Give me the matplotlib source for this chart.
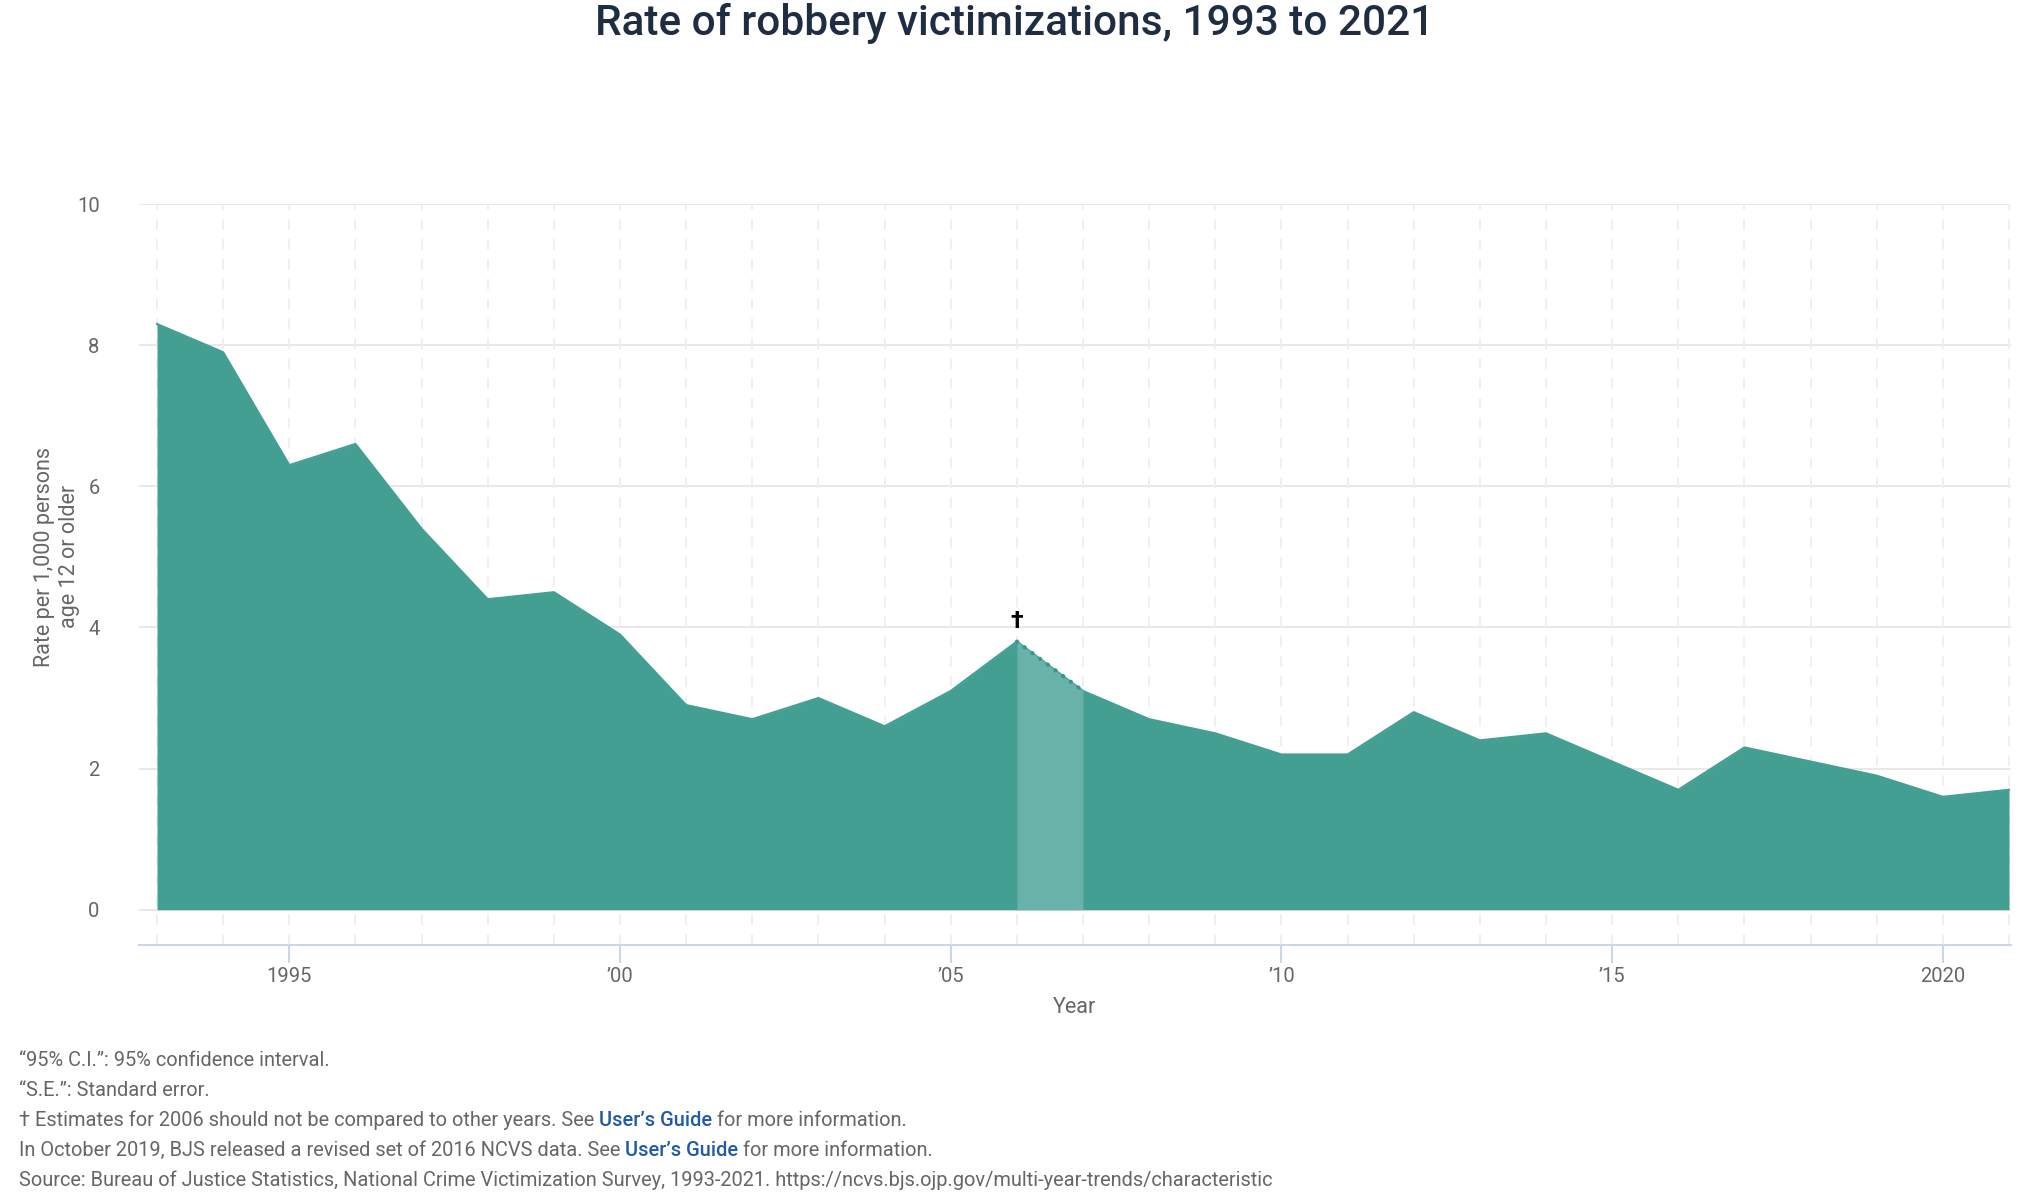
import matplotlib
matplotlib.use("Agg")
import matplotlib.pyplot as plt
from matplotlib.text import Annotation

years = [1993, 1994, 1995, 1996, 1997, 1998, 1999, 2000, 2001, 2002, 2003, 2004, 2005, 2006,
         2007, 2008, 2009, 2010, 2011, 2012, 2013, 2014, 2015, 2016, 2017, 2018, 2019, 2020, 2021]
rates = [8.3, 7.9, 6.3, 6.6, 5.4, 4.4, 4.5, 3.9, 2.9, 2.7, 3.0, 2.6, 3.1, 3.8,
         3.1, 2.7, 2.5, 2.2, 2.2, 2.8, 2.4, 2.5, 2.1, 1.7, 2.3, 2.1, 1.9, 1.6, 1.7]
tick_years = [1995, 2000, 2005, 2010, 2015, 2020]
tick_labels = ["1995", "\u201900", "\u201905", "\u201910", "\u201915", "2020"]
y_ticks = [0, 2, 4, 6, 8, 10]
flag_year = 2006

FONT = ["Roboto", "DejaVu Sans"]
plt.rcParams["font.family"] = FONT

TEAL = "#449f93"
LIGHT = "#69b2a9"
DOT = "#3a968a"
GRAY = "#666666"
GRID = "#e6e6e6"
VGRID = "#efefef"
AXIS = "#ccd6eb"

W, H = 2030, 1204
fig = plt.figure(figsize=(W / 100, H / 100), dpi=100)
left, right = 138.5, 2011
bottom, top = 945, 204
ax = fig.add_axes([left / W, 1 - bottom / H, (right - left) / W, (bottom - top) / H])

ax.set_xlim(1992.72, 2021.03)
ax.set_ylim(-0.5, 10)

for yv in y_ticks:
    ax.axhline(yv, color=GRID, lw=1.3, zorder=0)
for yr in years:
    ax.axvline(yr, color=VGRID, lw=1.3, ls=(0, (6, 5)), zorder=0)

ax.fill_between(years, rates, 0, color=TEAL, lw=0, zorder=2)
ax.plot(years, rates, color=TEAL, lw=1.5, zorder=3)

i = years.index(flag_year)
seg_x = years[i:i + 2]
seg_y = rates[i:i + 2]
ax.fill_between(seg_x, seg_y, 0, color=LIGHT, lw=0, zorder=4)
ax.plot(seg_x, seg_y, color=DOT, lw=3.0, ls=(0, (0.1, 2.2)), dash_capstyle="round", zorder=5)
ax.annotate("\u2020", xy=(flag_year, rates[i]), xytext=(0, 6), textcoords="offset points",
            ha="center", va="bottom", fontsize=17, fontweight="bold", color="black", zorder=6)

for s in ["top", "right", "left"]:
    ax.spines[s].set_visible(False)
ax.spines["bottom"].set_color(AXIS)
ax.spines["bottom"].set_linewidth(1.5)

ax.set_xticks(tick_years)
ax.set_xticklabels(tick_labels)
ax.tick_params(axis="x", length=13, width=1.5, color=AXIS, labelsize=14.5,
               labelcolor=GRAY, pad=3)
ax.set_yticks(y_ticks)
ax.set_yticklabels([str(v) for v in y_ticks])
ax.tick_params(axis="y", length=0, labelsize=14.5, labelcolor=GRAY, pad=28)

ax.set_xlabel("Year", fontsize=15.5, color=GRAY, labelpad=8)
ax.set_ylabel("Rate per 1,000 persons\nage 12 or older", fontsize=15.5, color=GRAY,
              labelpad=-2, linespacing=1.2)
ax.yaxis.label.set_y(5.5 / 10.5)

fig.text(0.5, 1 - 23 / H, "Rate of robbery victimizations, 1993 to 2021", ha="center",
         va="center", fontsize=30.5, fontweight="medium", color="#1f2d43")

BLUE = "#1f5ba8"
notes = [
    [("\u201c95% C.I.\u201d: 95% confidence interval.", GRAY)],
    [("\u201cS.E.\u201d: Standard error.", GRAY)],
    [("\u2020 Estimates for 2006 should not be compared to other years. See ", GRAY),
     ("User\u2019s Guide", BLUE), (" for more information.", GRAY)],
    [("In October 2019, BJS released a revised set of 2016 NCVS data. See ", GRAY),
     ("User\u2019s Guide", BLUE), (" for more information.", GRAY)],
    [("Source: Bureau of Justice Statistics, National Crime Victimization Survey, 1993-2021. "
      "https://ncvs.bjs.ojp.gov/multi-year-trends/characteristic", GRAY)],
]
ys = [1061, 1091, 1120, 1150, 1180]
FS = 14.4
for parts, yp in zip(notes, ys):
    prev = None
    for txt, col in parts:
        w = "medium" if col == BLUE else "normal"
        if prev is None:
            prev = fig.text(19 / W, 1 - yp / H, txt, ha="left", va="center",
                            fontsize=FS, color=col, fontweight=w)
        else:
            prev = fig.add_artist(Annotation(
                txt, xy=(1, 0), xycoords=prev, va="bottom", ha="left",
                fontsize=FS, color=col, fontweight=w))

fig.savefig("out.png", dpi=100, facecolor="white")
